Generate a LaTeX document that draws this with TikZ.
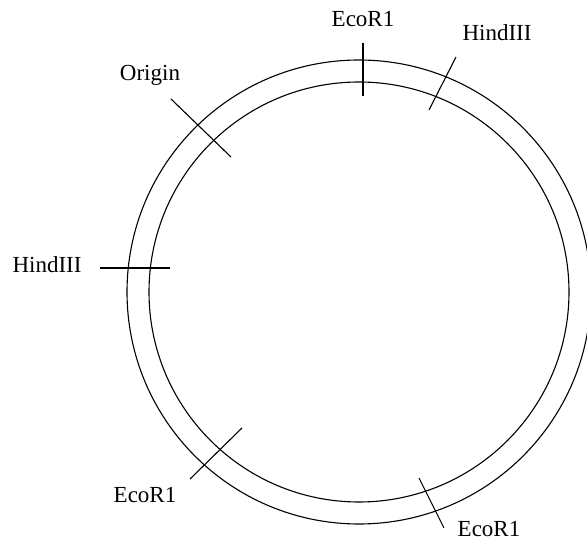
\documentclass[tikz,border=0pt]{standalone}
\usepackage{fontspec}
\setmainfont{Liberation Serif}
\usetikzlibrary{positioning}

\begin{document}
\begin{tikzpicture}[x=1pt, y=1pt, line width=1.1pt,
  font=\fontsize{23}{26}\selectfont,
  cut/.style={line width=1.1pt},
  site/.style={anchor=base, inner sep=0pt}]
  \useasboundingbox (0,0) rectangle (587,541);
  \coordinate (c) at (359,249);
  % the two strands
  \draw (c) circle[radius=232];
  \draw (c) circle[radius=210];
  % cut sites
  \foreach \a/\b in {{(363,498)}/{(363,445)}, {(456,484)}/{(429,431)},
                     {(171,442)}/{(231,384)}, {(100,273)}/{(170,273)},
                     {(190,62)}/{(242,113)}, {(419,63)}/{(444,13)}}
    \draw[cut] \a -- \b;
  % labels
  \node[site] (ecotop) at (363,514) {EcoR1};
  \node[site] (hindtop) at (497,500) {HindIII};
  \node[site] (ori) at (150,460) {Origin};
  \node[site] (hindleft) at (47,268) {HindIII};
  \node[site] (ecoleft) at (145,38) {EcoR1};
  \node[site] (ecoright) at (489,4) {EcoR1};
\end{tikzpicture}
\end{document}
